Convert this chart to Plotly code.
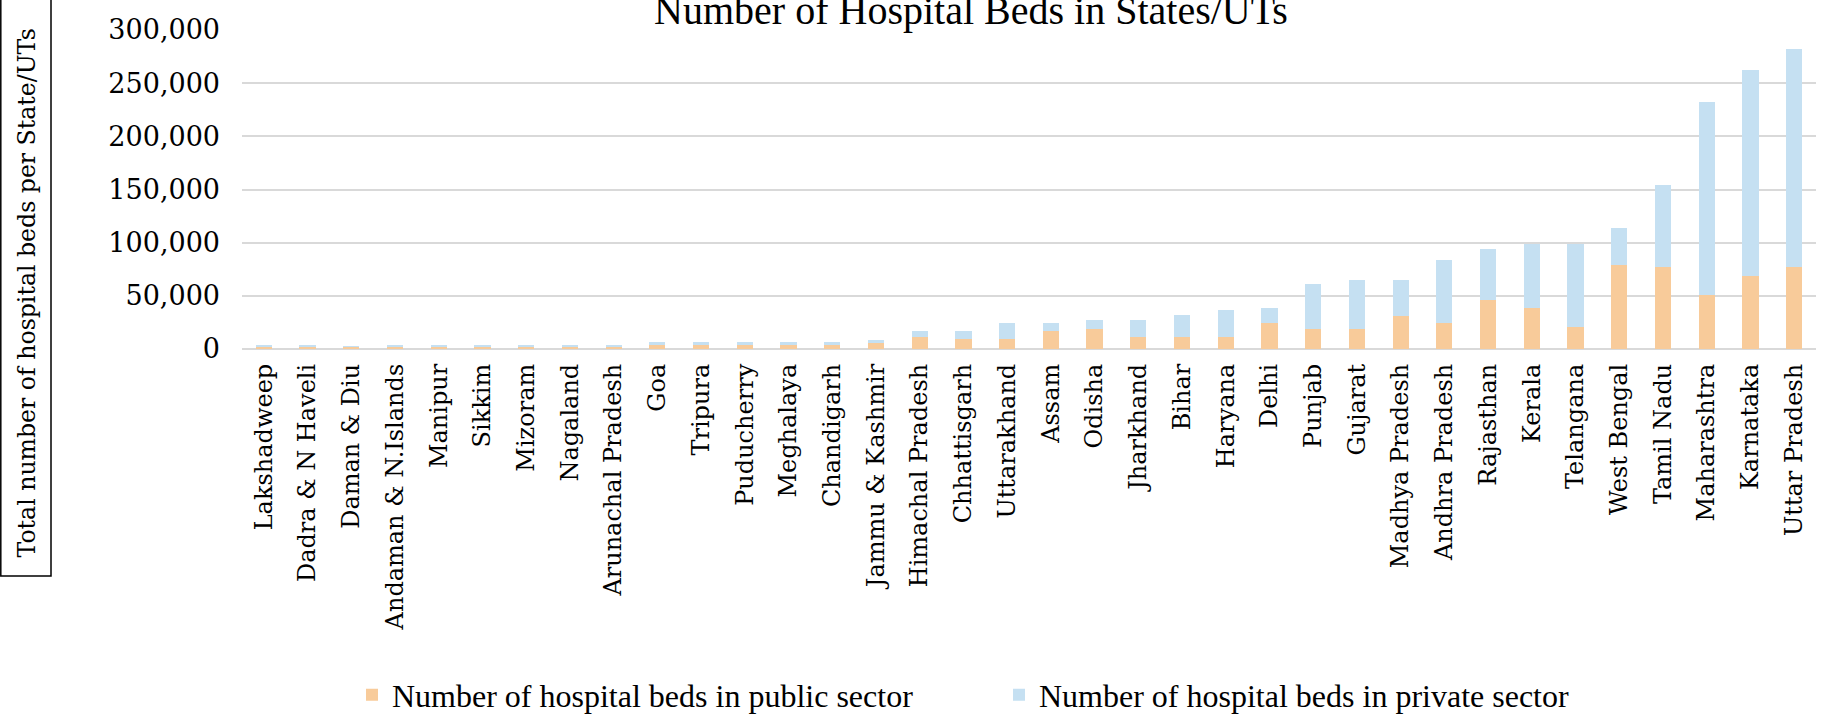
import plotly.graph_objects as go

categories = [
    "Lakshadweep", "Dadra & N Haveli", "Daman & Diu", "Andaman & N.Islands",
    "Manipur", "Sikkim", "Mizoram", "Nagaland", "Arunachal Pradesh", "Goa",
    "Tripura", "Puducherry", "Meghalaya", "Chandigarh", "Jammu & Kashmir",
    "Himachal Pradesh", "Chhattisgarh", "Uttarakhand", "Assam", "Odisha",
    "Jharkhand", "Bihar", "Haryana", "Delhi", "Punjab", "Gujarat",
    "Madhya Pradesh", "Andhra Pradesh", "Rajasthan", "Kerala", "Telangana",
    "West Bengal", "Tamil Nadu", "Maharashtra", "Karnataka", "Uttar Pradesh",
]

public_beds = [
    1500, 1500, 2200, 1500, 1500, 1500, 1500, 1500, 1500, 3500,
    3500, 3500, 3500, 3500, 6000, 11000, 9000, 9000, 16500, 19000,
    11000, 11000, 11000, 24000, 18500, 18500, 31500, 24000, 46500, 39000,
    21000, 79000, 77000, 51000, 69000, 77000,
]

private_beds = [
    2300, 2300, 300, 2300, 2300, 2300, 2300, 2300, 2300, 2800,
    2800, 2800, 2800, 2800, 2900, 5500, 7500, 15400, 7900, 7900,
    15900, 20700, 25500, 15000, 43000, 46000, 33000, 60000, 48000, 60000,
    78000, 35000, 77500, 181000, 193000, 205000,
]

y_ticks = [0, 50000, 100000, 150000, 200000, 250000, 300000]

title_text = "Number of Hospital Beds in States/UTs"
y_title_text = "Total number of hospital beds per State/UTs"
public_name = "Number of hospital beds in public sector"
private_name = "Number of hospital beds in private sector"

# ---- layout geometry (pixels) ----
W, H = 1826, 714
L, R, T, B = 242, 10, 30, 365
PW = W - L - R
PH = H - T - B


def px_x(p):
    return (p - L) / PW


def px_y(p):
    return (H - B - p) / PH


SERIF = "DejaVu Serif"
TNR = "Liberation Serif"

fig = go.Figure()
fig.add_trace(go.Bar(
    x=categories, y=public_beds, name=public_name,
    marker=dict(color="#F8CB9A", line=dict(width=0)),
))
fig.add_trace(go.Bar(
    x=categories, y=private_beds, name=private_name,
    marker=dict(color="#C5E0F2", line=dict(width=0)),
))

fig.update_layout(
    width=W, height=H,
    margin=dict(l=L, r=R, t=T, b=B, autoexpand=False),
    barmode="stack",
    bargap=0.63,
    plot_bgcolor="white",
    paper_bgcolor="white",
    title=dict(
        text=title_text,
        font=dict(family=TNR, size=40, color="black"),
        x=971 / W, xanchor="center", xref="container",
        y=1 - 10 / H, yanchor="middle", yref="container",
    ),
    xaxis=dict(
        tickangle=-90,
        tickfont=dict(family=SERIF, size=24, color="black"),
        showgrid=False,
        showline=False,
        ticks="",
        ticklabelstandoff=9,
    ),
    yaxis=dict(
        range=[0, 300000],
        tickvals=y_ticks,
        tickformat=",",
        tickfont=dict(family=SERIF, size=27, color="black"),
        showgrid=True, gridcolor="#D9D9D9", gridwidth=1.6,
        zeroline=True, zerolinecolor="#D9D9D9", zerolinewidth=1.6,
        showline=False,
        ticks="",
        ticklabelstandoff=21,
    ),
    showlegend=True,
    legend=dict(
        orientation="h",
        x=px_x(352), xanchor="left",
        y=px_y(695), yanchor="middle",
        font=dict(family=TNR, size=32, color="black"),
        entrywidth=602, entrywidthmode="pixels",
        traceorder="normal",
        bgcolor="rgba(0,0,0,0)",
    ),
)

# boxed y-axis title
fig.add_shape(
    type="rect", xref="paper", yref="paper",
    x0=px_x(0.8), x1=px_x(51), y0=px_y(576), y1=px_y(-3),
    line=dict(color="black", width=1.5), fillcolor="rgba(0,0,0,0)",
    layer="above",
)
fig.add_annotation(
    text=y_title_text, textangle=-90,
    xref="paper", yref="paper",
    x=px_x(26), y=px_y(292.5), xanchor="center", yanchor="middle",
    showarrow=False,
    font=dict(family=SERIF, size=23.6, color="black"),
)

fig.write_html(
    "out.html",
    config={"displayModeBar": False},
    post_script="document.body.style.margin='0px';",
)
